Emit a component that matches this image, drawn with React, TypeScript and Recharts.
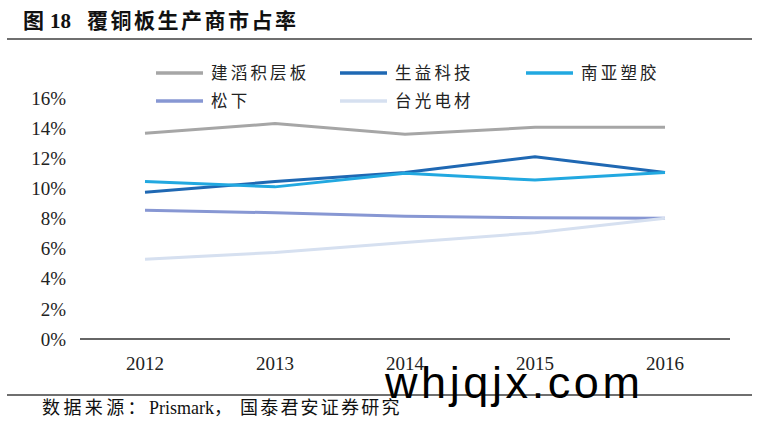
import React from "react";
import { Line, LineChart, XAxis, YAxis } from "recharts";

const years = ["2012", "2013", "2014", "2015", "2016"];

const kingboard = [13.66, 14.3, 13.6, 14.05, 14.05];
const shengyi = [9.75, 10.45, 11.05, 12.1, 11.05];
const nanya = [10.45, 10.1, 11.0, 10.55, 11.05];
const panasonic = [8.55, 8.38, 8.15, 8.05, 8.02];
const elite = [5.3, 5.75, 6.4, 7.05, 8.02];

const yTicks = [0, 2, 4, 6, 8, 10, 12, 14, 16];

const series = [
  { key: "建滔积层板", values: kingboard, color: "#a6a6a6" },
  { key: "生益科技", values: shengyi, color: "#1f68b3" },
  { key: "南亚塑胶", values: nanya, color: "#22a8e0" },
  { key: "松下", values: panasonic, color: "#8797d3" },
  { key: "台光电材", values: elite, color: "#d6e0f0" },
];

const data = years.map((year, i) => {
  const row: Record<string, string | number> = { year };
  series.forEach((s) => {
    row[s.key] = s.values[i];
  });
  return row;
});

const serif = '"Liberation Serif", "Noto Sans CJK SC", serif';

// legend positions follow the reference: three columns, two rows
const legendCols = [156, 340, 526];
const legendRows = [73, 101];

const ChartLegend = () => (
  <svg width={762} height={120} style={{ position: "absolute", left: 0, top: 0 }}>
    {series.map((s, i) => {
      const x = legendCols[i % 3];
      const y = legendRows[Math.floor(i / 3)];
      return (
        <g key={s.key}>
          <line x1={x} x2={x + 47} y1={y} y2={y} stroke={s.color} strokeWidth={3.5} />
          <text
            x={x + 55}
            y={y + 6}
            fontFamily={serif}
            fontSize={16.5}
            letterSpacing={3.2}
            fill="#222"
          >
            {s.key}
          </text>
        </g>
      );
    })}
  </svg>
);

const App = () => {
  return (
    <div
      style={{
        position: "absolute",
        left: 0,
        top: 0,
        width: 762,
        height: 428,
        background: "#fff",
        overflow: "hidden",
      }}
    >
      <LineChart
        width={762}
        height={428}
        data={data}
        margin={{ top: 98, right: 32, bottom: 0, left: 0 }}
      >
        <XAxis
          dataKey="year"
          padding={{ left: 65, right: 65 }}
          axisLine={{ stroke: "#333", strokeWidth: 1.6 }}
          tickLine={false}
          tickSize={6}
          tickMargin={12}
          tick={{ fill: "#222", fontSize: 19, fontFamily: serif }}
          height={89}
        />
        <YAxis
          domain={[0, 16]}
          ticks={yTicks}
          interval={0}
          width={80}
          axisLine={false}
          tickLine={false}
          tickSize={6}
          tickMargin={8}
          tickFormatter={(v) => `${v}%`}
          tick={{ fill: "#222", fontSize: 19, fontFamily: serif }}
        />
        {series.map((s) => (
          <Line
            key={s.key}
            type="linear"
            dataKey={s.key}
            stroke={s.color}
            strokeWidth={3}
            dot={false}
            activeDot={false}
            isAnimationActive={false}
          />
        ))}
      </LineChart>

      <ChartLegend />

      <svg
        width={762}
        height={428}
        style={{ position: "absolute", left: 0, top: 0, pointerEvents: "none" }}
      >
        <text x={23} y={28} fontFamily={serif} fontSize={21} fontWeight={700} fill="#111">
          <tspan>图</tspan>
          <tspan x={50}>18</tspan>
          <tspan x={87} letterSpacing={2.5}>覆铜板生产商市占率</tspan>
        </text>
        <line x1={7} x2={752} y1={39} y2={39} stroke="#6f6f6f" strokeWidth={2.2} />

        <line x1={7} x2={752} y1={395} y2={395} stroke="#6f6f6f" strokeWidth={2.2} />
        <text x={42} y={414} fontFamily={serif} fontSize={18} fill="#111">
          <tspan letterSpacing={3.4}>数据来源：</tspan>
          <tspan>Prismark，</tspan>
          <tspan x={240} letterSpacing={2.2}>国泰君安证券研究</tspan>
        </text>

        <text
          x={385}
          y={398}
          fontFamily='"Liberation Sans", Arial, sans-serif'
          fontSize={45}
          letterSpacing={3.6}
          fill="#000"
        >
          whjqjx.com
        </text>
      </svg>
    </div>
  );
};

export default App;
